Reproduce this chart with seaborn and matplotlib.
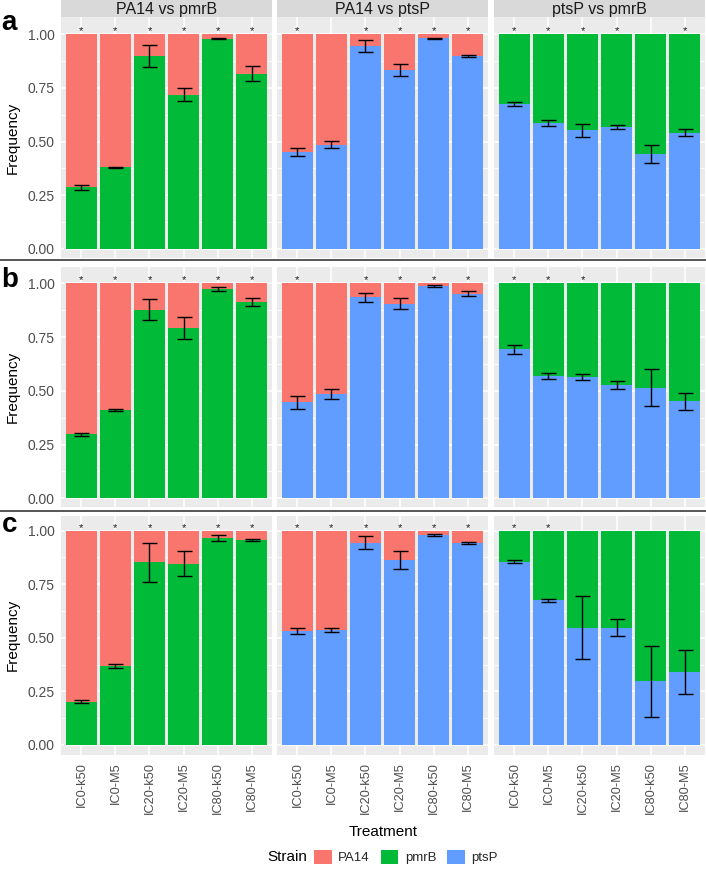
import numpy as np
import pandas as pd
import matplotlib
matplotlib.use("Agg")
import matplotlib.pyplot as plt
import seaborn as sns
from matplotlib.patches import Patch
from matplotlib.lines import Line2D
from matplotlib.ticker import MultipleLocator, FixedLocator

# ---------------- data ----------------
treatments = ["IC0-k50", "IC0-M5", "IC20-k50", "IC20-M5", "IC80-k50", "IC80-M5"]
comparisons = ["PA14 vs pmrB", "PA14 vs ptsP", "ptsP vs pmrB"]
row_labels = ["a", "b", "c"]
strains = ["PA14", "pmrB", "ptsP"]
lower_strain = ["pmrB", "ptsP", "ptsP"]
upper_strain = ["PA14", "PA14", "pmrB"]

# frequency of the lower (bottom) strain, per row and comparison
a_pa14_pmrb = [0.286, 0.379, 0.899, 0.718, 0.980, 0.816]
a_pa14_pmrb_se = [0.011, 0.002, 0.050, 0.031, 0.002, 0.036]
a_pa14_ptsp = [0.451, 0.485, 0.947, 0.832, 0.981, 0.899]
a_pa14_ptsp_se = [0.017, 0.017, 0.028, 0.028, 0.004, 0.006]
a_ptsp_pmrb = [0.675, 0.585, 0.552, 0.569, 0.443, 0.541]
a_ptsp_pmrb_se = [0.011, 0.014, 0.030, 0.009, 0.041, 0.016]

b_pa14_pmrb = [0.298, 0.411, 0.878, 0.792, 0.975, 0.913]
b_pa14_pmrb_se = [0.008, 0.005, 0.049, 0.049, 0.009, 0.020]
b_pa14_ptsp = [0.447, 0.484, 0.936, 0.906, 0.986, 0.952]
b_pa14_ptsp_se = [0.031, 0.023, 0.021, 0.027, 0.004, 0.013]
b_ptsp_pmrb = [0.693, 0.570, 0.563, 0.526, 0.515, 0.451]
b_ptsp_pmrb_se = [0.021, 0.013, 0.013, 0.019, 0.085, 0.040]

c_pa14_pmrb = [0.201, 0.370, 0.852, 0.846, 0.966, 0.955]
c_pa14_pmrb_se = [0.007, 0.009, 0.090, 0.057, 0.015, 0.005]
c_pa14_ptsp = [0.532, 0.535, 0.943, 0.863, 0.978, 0.943]
c_pa14_ptsp_se = [0.014, 0.010, 0.030, 0.042, 0.005, 0.004]
c_ptsp_pmrb = [0.856, 0.675, 0.547, 0.547, 0.298, 0.340]
c_ptsp_pmrb_se = [0.008, 0.006, 0.147, 0.039, 0.166, 0.102]

# significance stars (1 = "*")
a_sig = [[1, 1, 1, 1, 1, 1], [1, 0, 1, 1, 1, 1], [1, 1, 1, 1, 0, 1]]
b_sig = [[1, 1, 1, 1, 1, 1], [1, 0, 1, 1, 1, 1], [1, 1, 1, 0, 0, 0]]
c_sig = [[1, 1, 1, 1, 1, 1], [1, 1, 1, 1, 1, 1], [1, 1, 0, 0, 0, 0]]

rows = [
    ([a_pa14_pmrb, a_pa14_ptsp, a_ptsp_pmrb], [a_pa14_pmrb_se, a_pa14_ptsp_se, a_ptsp_pmrb_se], a_sig),
    ([b_pa14_pmrb, b_pa14_ptsp, b_ptsp_pmrb], [b_pa14_pmrb_se, b_pa14_ptsp_se, b_ptsp_pmrb_se], b_sig),
    ([c_pa14_pmrb, c_pa14_ptsp, c_ptsp_pmrb], [c_pa14_pmrb_se, c_pa14_ptsp_se, c_ptsp_pmrb_se], c_sig),
]

palette = {"PA14": "#F8766D", "pmrB": "#00BA38", "ptsP": "#619CFF"}

# ---------------- style ----------------
sns.set_theme(style="darkgrid")
plt.rcParams["font.family"] = ["Liberation Sans", "DejaVu Sans"]
plt.rcParams["axes.facecolor"] = "#EBEBEB"
plt.rcParams["grid.color"] = "white"

W, H = 706, 869
fig = plt.figure(figsize=(W / 100, H / 100), dpi=100)
fig.patch.set_facecolor("white")


def frac(x0, y0, x1, y1):
    return [x0 / W, 1 - y1 / H, (x1 - x0) / W, (y1 - y0) / H]


col_px = [(61, 272), (277, 488), (494, 705)]
row_px = [(17.3, 258.3), (267.3, 507.3), (515.7, 755.0)]
row_one_zero = [(34.3, 248.7), (283.3, 498.3), (530.7, 745.0)]
label_y = [29.5, 287.0, 532.5]

tick_col = "#4D4D4D"

for r, (vals, ses, sig) in enumerate(rows):
    top, bot = row_px[r]
    one, zero = row_one_zero[r]
    scale = zero - one
    ylim = (-(bot - zero) / scale, 1 + (one - top) / scale)
    for c in range(3):
        x0, x1 = col_px[c]
        ax = fig.add_axes(frac(x0, top, x1, bot))
        lower = np.array(vals[c])
        upper = 1 - lower
        df = pd.DataFrame({"Treatment": treatments,
                           "total": lower + upper,
                           "lower": lower,
                           "se": ses[c]})
        sns.barplot(data=df, x="Treatment", y="total", order=treatments,
                    color=palette[upper_strain[c]], saturation=1, width=0.9,
                    errorbar=None, ax=ax, zorder=2, linewidth=0,
                    edgecolor="none")
        sns.barplot(data=df, x="Treatment", y="lower", order=treatments,
                    color=palette[lower_strain[c]], saturation=1, width=0.9,
                    errorbar=None, ax=ax, zorder=3, linewidth=0,
                    edgecolor="none")
        ax.errorbar(np.arange(len(treatments)), df["lower"], yerr=df["se"],
                    fmt="none", ecolor="black", elinewidth=1.0, capsize=5.4,
                    capthick=1.0, zorder=4)
        for i, s in enumerate(sig[c]):
            if s:
                ax.text(i, 1.0, "*", ha="center", va="baseline", fontsize=8,
                        color="#1A1A1A", zorder=5)
        ax.set_xlim(-0.6, len(treatments) - 0.4)
        ax.set_ylim(*ylim)
        ax.set_xlabel("")
        ax.set_ylabel("")
        ax.set_axisbelow(True)
        ax.yaxis.set_major_locator(FixedLocator([0, 0.25, 0.5, 0.75, 1.0]))
        ax.yaxis.set_minor_locator(MultipleLocator(0.125))
        ax.grid(True, which="major", axis="both", color="white", lw=1.1)
        ax.grid(True, which="minor", axis="y", color="white", lw=0.55)
        ax.tick_params(axis="y", which="minor", length=0)
        for sp in ax.spines.values():
            sp.set_visible(False)
        if c == 0:
            ax.set_yticklabels(["0.00", "0.25", "0.50", "0.75", "1.00"])
            ax.tick_params(axis="y", which="major", length=3, width=0.8,
                           color="#333333", labelsize=10, labelcolor=tick_col, pad=1.5)
        else:
            ax.tick_params(axis="y", which="major", length=0, labelleft=False)
        if r == 2:
            ax.tick_params(axis="x", length=3, width=0.8, color="#333333",
                           labelsize=9.2, labelcolor=tick_col, pad=2,
                           labelrotation=90)
        else:
            ax.tick_params(axis="x", length=0, labelbottom=False)
        if r == 0:
            sax = fig.add_axes(frac(x0, 0, x1, 17.3))
            sax.set_facecolor("#D9D9D9")
            sax.set_xticks([])
            sax.set_yticks([])
            sax.grid(False)
            for sp in sax.spines.values():
                sp.set_visible(False)
            sax.text(0.5, 0.45, comparisons[c], ha="center", va="center",
                     fontsize=11.5, color="#1A1A1A", transform=sax.transAxes)
    # y axis title and panel letter
    fig.text(12.5 / W, 1 - ((top + bot) / 2) / H, "Frequency", rotation=90,
             ha="center", va="center", fontsize=11, color="black")
    fig.text(1.5 / W, 1 - label_y[r] / H, row_labels[r], ha="left",
             va="baseline", fontsize=20, fontweight="bold", color="black")

# separators between the panel rows
for ysep in [259.8, 510.5]:
    fig.add_artist(Line2D([0, 1], [1 - ysep / H] * 2, color="#3A3A3A", lw=1.2,
                          transform=fig.transFigure))

fig.text(383 / W, 1 - 832 / H, "Treatment", ha="center", va="center",
         fontsize=11, color="black")

handles = [Patch(facecolor=palette[s], edgecolor="none", label=s) for s in strains]
fig.text(267 / W, 1 - 857 / H, "Strain", ha="left", va="center", fontsize=11,
         color="black")
fig.legend(handles=handles, loc="center", bbox_to_anchor=(406 / W, 1 - 857 / H),
           ncol=3, frameon=False, fontsize=9.5, handlelength=1.3,
           handleheight=1.3, handletextpad=0.5, columnspacing=0.85,
           borderpad=0, borderaxespad=0)

fig.savefig("out.png", dpi=100, facecolor="white")
